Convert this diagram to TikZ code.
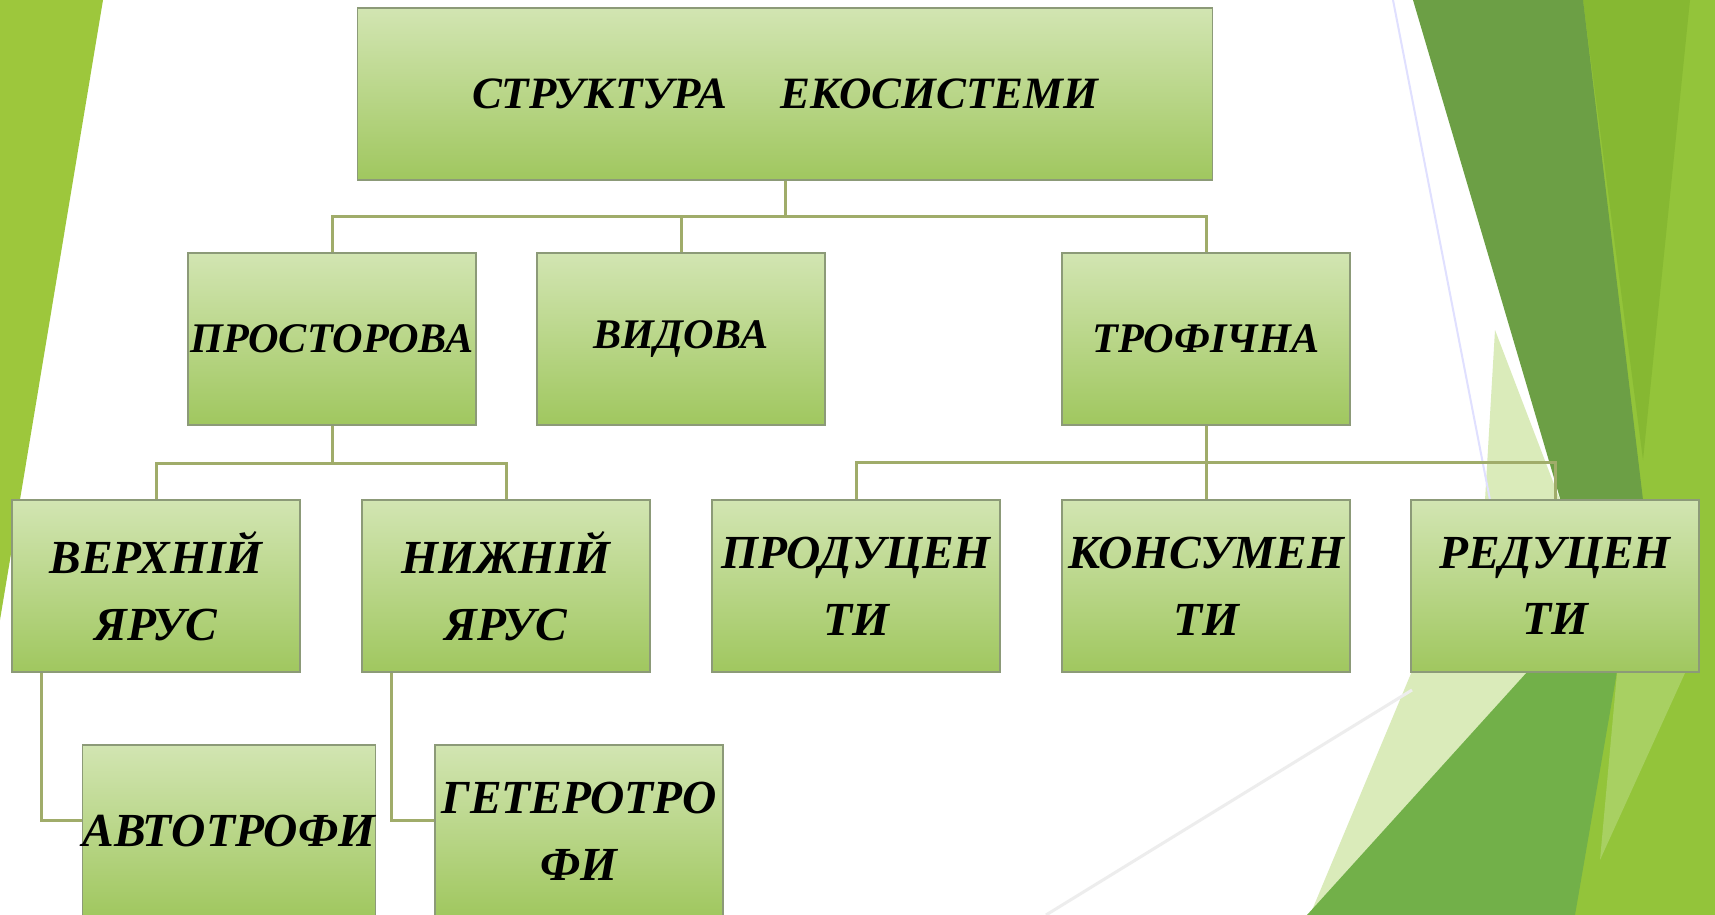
\documentclass[tikz,border=0pt]{standalone}
\usepackage{fontspec}
\setmainfont{Liberation Serif}
\usetikzlibrary{shadings}
\definecolor{leftg}{RGB}{157,199,60}
\definecolor{yg}{RGB}{147,196,58}
\definecolor{medg}{RGB}{134,184,50}
\definecolor{darkg}{RGB}{108,159,69}
\definecolor{midg}{RGB}{114,176,73}
\definecolor{stripe}{RGB}{168,208,98}
\definecolor{pale}{RGB}{218,235,186}
\definecolor{boxtop}{RGB}{210,229,178}
\definecolor{boxbot}{RGB}{160,199,95}
\definecolor{boxline}{RGB}{140,154,120}
\definecolor{linkc}{RGB}{160,172,106}
\begin{document}
\begin{tikzpicture}
	[x=0.2mm, y=-0.2mm,
	box/.style ={draw=boxline, line width=0.3mm, top color=boxtop, bottom color=boxbot,
		minimum width=57.6mm, minimum height=34.4mm, inner sep=0pt, align=center,
		font=\fontsize{24}{36}\selectfont\bfseries\itshape},
	big/.style ={font=\fontsize{27}{38}\selectfont\bfseries\itshape},
	link/.style ={draw=linkc, line width=0.6mm}]
	\useasboundingbox (0,0) rectangle (1715,915);
	\clip (0,0) rectangle (1715,915);
	\fill[white] (0,0) rectangle (1715,915);
	% background shapes
	\fill[leftg] (0,0) -- (103,0) -- (0,620) -- cycle;
	\fill[yg] (1583,0) -- (1715,0) -- (1715,915) -- (1560,915) -- cycle;
	\fill[medg] (1583,0) -- (1690,0) -- (1643,460) -- cycle;
	\fill[pale] (1495,330) -- (1560,500) -- (1485,500) -- cycle;
	\fill[darkg] (1413,0) -- (1583,0) -- (1655,600) -- (1590,600) -- cycle;
	\fill[pale] (1425,640) -- (1570,640) -- (1310,915) -- cycle;
	\fill[midg] (1307,915) -- (1596,596) -- (1630,596) -- (1575,915) -- cycle;
	\fill[stripe] (1620,640) -- (1700,640) -- (1600,860) -- cycle;
	\draw[white!88!blue, line width=0.4mm] (1393,0) -- (1490,500);
	\draw[white!93!black, line width=0.6mm] (1046,915) -- (1412,690);
	% boxes
	\node[box, minimum width=171mm, font=\fontsize{25.5}{36}\selectfont\bfseries\itshape] (eco) at (785,94) {СТРУКТУРА\hspace{1.2em}ЕКОСИСТЕМИ};
	\node[box] (pros) at (332,339) {ПРОСТОРОВА};
	\node[box] (vyd) at (681,339) {ВИДОВА};
	\node[box] (trof) at (1206,339) {ТРОФІЧНА};
	\node[box, big] (verh) at (156,586) {ВЕРХНІЙ\\ЯРУС};
	\node[box, big] (nyzh) at (506,586) {НИЖНІЙ\\ЯРУС};
	\node[box, big] (prod) at (856,586) {ПРОДУЦЕН\\ТИ};
	\node[box, big] (kons) at (1206,586) {КОНСУМЕН\\ТИ};
	\node[box, big] (red) at (1555,586) {РЕДУЦЕН\\ТИ};
	\node[box, big] (avto) at (229,831) {АВТОТРОФИ};
	\node[box, big] (het) at (579,831) {ГЕТЕРОТРО\\ФИ};
	% connectors
	\coordinate (b0) at (785,217);
	\coordinate (b1) at (332,463);
	\coordinate (b2) at (1206,462);
	\draw[link] (eco.south) -- (b0);
	\draw[link] (pros.north) |- (b0) -| (trof.north);
	\draw[link] (vyd.north) -- (vyd.north |- b0);
	\draw[link] (pros.south) -- (b1);
	\draw[link] (verh.north) |- (b1) -| (nyzh.north);
	\draw[link] (trof.south) -- (b2);
	\draw[link] (prod.north) |- (b2) -| (red.north);
	\draw[link] (kons.north) -- (b2);
	\draw[link] ([xshift=6mm]verh.south west) |- ([yshift=2.2mm]avto.west);
	\draw[link] ([xshift=6mm]nyzh.south west) |- ([yshift=2.2mm]het.west);
\end{tikzpicture}
\end{document}
